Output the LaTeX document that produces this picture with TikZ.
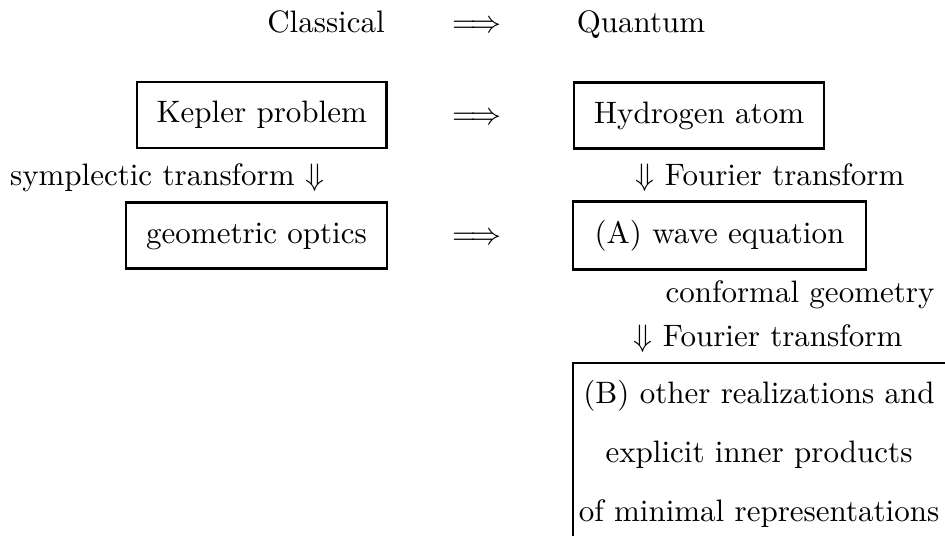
\documentclass[tikz,border=0pt]{standalone}
\usepackage{amsmath,amssymb}
\begin{document}
\begin{tikzpicture}[x=0.3226pt,y=-0.3226pt,
  lbl/.style={inner sep=0pt, text height=7pt, text depth=2pt},
  boxnode/.style={draw, line width=0.8pt, inner sep=0pt, text height=7pt, text depth=2pt, minimum height=21.3pt}]
\useasboundingbox (0,0) rectangle (945,536);
% header row
\node[lbl] (cl) at (326,25) {Classical};
\node[lbl] (ar0) at (477,25) {$\Longrightarrow$};
\node[lbl] (qu) at (641,25) {Quantum};
% row 1
\node[boxnode, minimum width=80.6pt] (kep) at (261.7,115.2) {Kepler problem};
\node[lbl] (ar1) at (477,117) {$\Longrightarrow$};
\node[boxnode, minimum width=80.6pt] (hyd) at (699,115.5) {Hydrogen atom};
% labels
\node[lbl] (sym) at (167,178) {symplectic transform $\Downarrow$};
\node[lbl] (four1) at (770,178) {$\Downarrow$ Fourier transform};
% row 2
\node[boxnode, minimum width=84.2pt] (geo) at (256.5,235.5) {geometric optics};
\node[lbl] (ar2) at (477,237) {$\Longrightarrow$};
\node[boxnode, minimum width=94.5pt, minimum height=21.9pt] (wav) at (719.5,235.5) {(A) wave equation};
% labels
\node[lbl] (conf) at (800,295) {conformal geometry};
\node[lbl] (four2) at (768,339) {$\Downarrow$ Fourier transform};
% bottom box
\node[lbl] (b1) at (759,396) {(B) other realizations and};
\node[lbl] (b2) at (759,455) {explicit inner products};
\node[lbl] (b3) at (759,514) {of minimal representations};
\coordinate (bl) at (573,536);
\coordinate (tr) at (945,363);
\draw[line width=0.8pt] (bl) |- (tr);
\end{tikzpicture}
\end{document}
